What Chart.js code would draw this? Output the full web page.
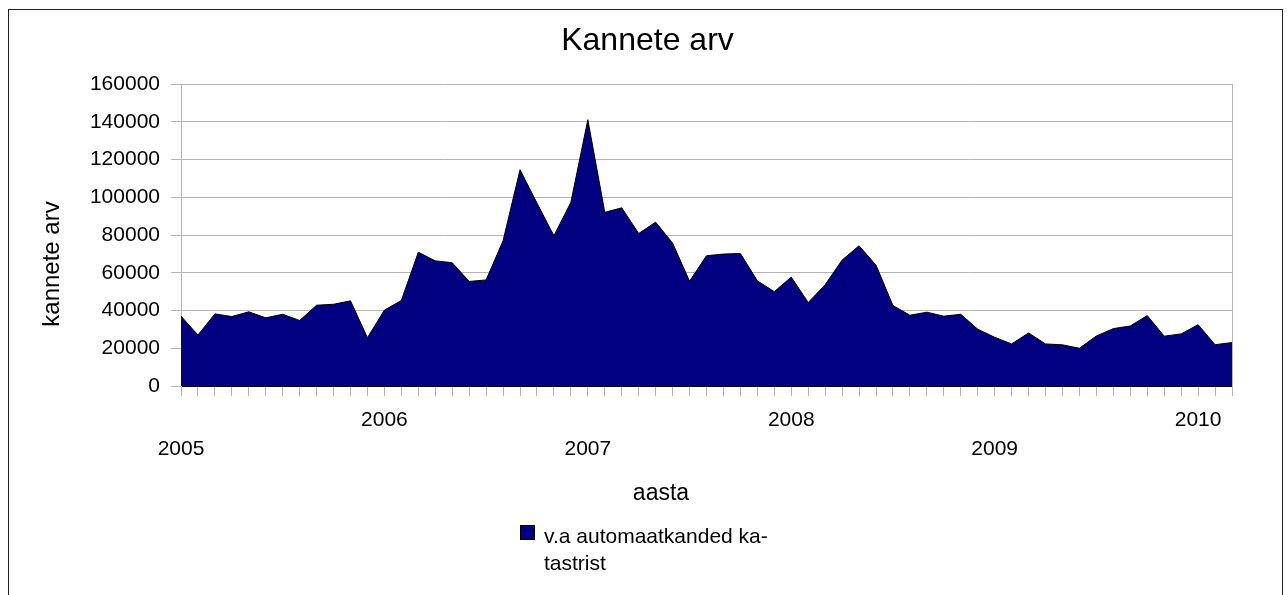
<!DOCTYPE html>
<html>
<head>
<meta charset="utf-8">
<title>Kannete arv</title>
<script src="https://cdn.jsdelivr.net/npm/chart.js@4/dist/chart.umd.min.js"></script>
<style>
  html, body { margin: 0; padding: 0; background: #fff; }
  #wrap { position: relative; width: 1287px; height: 595px; overflow: hidden; }
  #frame { position: absolute; left: 8px; top: 9px; width: 1273px; height: 600px; border: 1px solid #222; pointer-events: none; }
  canvas { position: absolute; left: 0; top: 0; }
</style>
</head>
<body>
<div id="wrap">
  <canvas id="c" width="1287" height="595"></canvas>
  <div id="frame"></div>
</div>
<script>
// ---- data ----
const years = ['2005', '2006', '2007', '2008', '2009', '2010'];
const monthNames = ['01', '02', '03', '04', '05', '06', '07', '08', '09', '10', '11', '12'];
const values2005 = [37000, 27000, 38200, 36800, 39300, 36100, 38000, 34700, 42800, 43300, 45100, 25600];
const values2006 = [40200, 45300, 70900, 66300, 65300, 55400, 56200, 77000, 114600, 96900, 79600, 97300];
const values2007 = [141100, 92000, 94400, 80800, 86800, 75700, 55500, 69000, 69900, 70200, 55700, 50000];
const values2008 = [57700, 44200, 53700, 66700, 74300, 64000, 42600, 37500, 39100, 37000, 38000, 30100];
const values2009 = [25800, 22300, 28100, 22300, 21800, 20000, 26500, 30400, 31800, 37300, 26400, 27600];
const values2010 = [32500, 21900, 23000];
const yTicks = [0, 20000, 40000, 60000, 80000, 100000, 120000, 140000, 160000];
const seriesName = ['v.a automaatkanded ka-', 'tastrist'];
const chartTitle = 'Kannete arv';
const yTitle = 'kannete arv';
const xTitle = 'aasta';

const seriesValues = [].concat(values2005, values2006, values2007, values2008, values2009, values2010);
const categories = [];
years.forEach(y => monthNames.forEach(m => categories.push(m + '.' + y)));
categories.length = seriesValues.length;

const FONT = "'Liberation Sans', Arial, sans-serif";
Chart.defaults.font.family = FONT;
Chart.defaults.color = '#000';

// axis titles and the two-line legend, drawn as canvas text
const extraText = {
  id: 'extraText',
  afterDraw(chart) {
    const ctx = chart.ctx;
    // y axis title
    ctx.save();
    ctx.fillStyle = '#000';
    ctx.font = '24px ' + FONT;
    ctx.textAlign = 'center';
    ctx.textBaseline = 'middle';
    ctx.translate(52, 264);
    ctx.rotate(-Math.PI / 2);
    ctx.fillText(yTitle, 0, 0);
    ctx.restore();
    // x axis title
    ctx.save();
    ctx.fillStyle = '#000';
    ctx.font = '23px ' + FONT;
    ctx.textAlign = 'center';
    ctx.textBaseline = 'alphabetic';
    ctx.fillText(xTitle, 661, 500);
    ctx.restore();
    // legend
    const ds = chart.data.datasets[0];
    ctx.save();
    ctx.font = '21px ' + FONT;
    const box = 15, gap = 9;
    const textW = Math.max(...seriesName.map(t => ctx.measureText(t).width));
    const total = box + gap + textW;
    const left = Math.round((chart.width - total) / 2);
    ctx.fillStyle = ds.backgroundColor;
    ctx.fillRect(left, 525, box, box);
    ctx.strokeStyle = '#000';
    ctx.lineWidth = 1;
    ctx.strokeRect(left + 0.5, 525.5, box - 1, box - 1);
    ctx.fillStyle = '#000';
    ctx.textAlign = 'left';
    ctx.textBaseline = 'alphabetic';
    seriesName.forEach((t, i) => ctx.fillText(t, left + box + gap, 543 + i * 27));
    ctx.restore();
  }
};

new Chart(document.getElementById('c'), {
  type: 'line',
  data: {
    labels: categories,
    datasets: [{
      label: seriesName.join(''),
      data: seriesValues,
      fill: 'origin',
      backgroundColor: '#000080',
      borderColor: '#000000',
      borderWidth: 1,
      pointRadius: 0,
      tension: 0
    }]
  },
  options: {
    responsive: false,
    animation: false,
    layout: { padding: { left: 59, right: 51, top: 0, bottom: 80 } },
    plugins: {
      title: {
        display: true,
        text: chartTitle,
        color: '#000',
        font: { size: 32, weight: 'normal', lineHeight: 1.2 },
        padding: { top: 22, bottom: 23.6 }
      },
      legend: { display: false },
      tooltip: { enabled: false }
    },
    scales: {
      x: {
        type: 'category',
        offset: false,
        grid: { drawOnChartArea: false, drawTicks: true, tickLength: 10, color: '#b3b3b3' },
        border: { color: '#000', width: 1 },
        ticks: {
          autoSkip: false,
          maxRotation: 0,
          minRotation: 0,
          padding: 9,
          color: '#000',
          font: { size: 21, lineHeight: 1.405 },
          callback(value, index) {
            if (index % 12 !== 0) return '';
            const yi = index / 12;
            const label = years[yi];
            return yi % 2 === 0 ? ['', label] : [label];
          }
        },
        afterFit(s) { s.height = 129; }
      },
      y: {
        min: 0,
        max: 160000,
        grid: { color: '#b3b3b3', tickLength: 10 },
        border: { color: '#b3b3b3' },
        afterBuildTicks(s) { s.ticks = yTicks.map(v => ({ value: v })); },
        ticks: {
          padding: 11,
          color: '#000',
          font: { size: 21 },
          callback(v) { return String(v); }
        },
        afterFit(s) { s.width = 122; }
      },
      y2: {
        position: 'right',
        display: true,
        min: 0,
        max: 160000,
        grid: { drawOnChartArea: false, drawTicks: false },
        border: { color: '#b3b3b3' },
        ticks: { display: false },
        afterFit(s) { s.width = 4; }
      }
    }
  },
  plugins: [extraText]
});
</script>
</body>
</html>
